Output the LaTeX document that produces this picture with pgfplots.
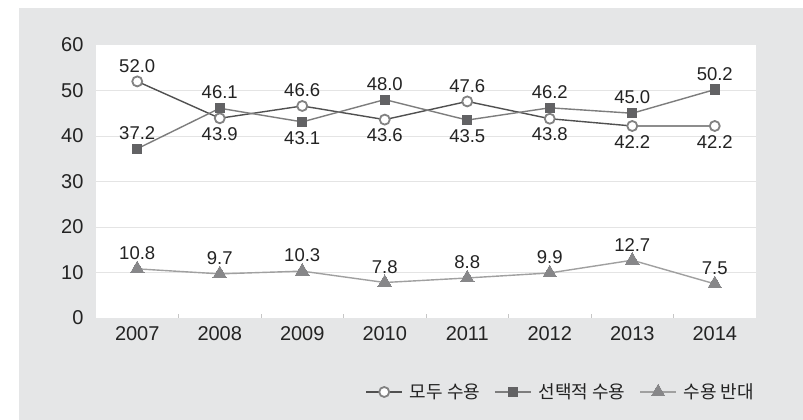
\documentclass[border=0pt]{standalone}
\usepackage{fontspec}
\setmainfont{Liberation Sans}
\newfontfamily\kr{Noto Sans CJK KR}
\usepackage{pgfplots}
\pgfplotsset{compat=1.18}
\definecolor{bggrey}{RGB}{229,230,231}
\definecolor{gridgrey}{RGB}{228,228,228}
\definecolor{txt}{RGB}{35,35,35}
\definecolor{allline}{RGB}{80,80,80}
\definecolor{allmark}{RGB}{130,130,130}
\definecolor{selline}{RGB}{125,125,125}
\definecolor{selmark}{RGB}{98,98,100}
\definecolor{oppline}{RGB}{160,160,160}
\definecolor{oppmark}{RGB}{135,135,137}

\pgfplotstableread{
year all sel opp
2007 52.0 37.2 10.8
2008 43.9 46.1 9.7
2009 46.6 43.1 10.3
2010 43.6 48.0 7.8
2011 47.6 43.5 8.8
2012 43.8 46.2 9.9
2013 42.2 45.0 12.7
2014 42.2 50.2 7.5
}\survey

\tikzset{vlab/.style={font=\fontsize{18.5}{20}\selectfont, text=txt, inner sep=0pt}}
\newcommand{\labA}[2]{\node[vlab, anchor=south, yshift=9pt] at (axis cs:#1,#2) {#2};}
\newcommand{\labB}[2]{\node[vlab, anchor=north, yshift=-9pt] at (axis cs:#1,#2) {#2};}

\begin{document}
\begin{tikzpicture}[x=1pt,y=1pt]
\fill[white] (0,0) rectangle (803,420);
\fill[bggrey] (19,0) rectangle (803,412);
\begin{axis}[
    at={(96pt,102pt)}, anchor=south west,
    scale only axis, width=660pt, height=273pt,
    xmin=2006.5, xmax=2014.5, ymin=0, ymax=60,
    axis background/.style={fill=white},
    axis line style={draw=none},
    xtick={2007,2008,2009,2010,2011,2012,2013,2014},
    ytick={0,10,20,30,40,50,60},
    major tick length=0pt,
    xtick pos=bottom, ytick pos=left,
    extra x ticks={2007.5,2008.5,2009.5,2010.5,2011.5,2012.5,2013.5},
    extra x tick labels={},
    extra x tick style={major tick length=4pt, tick align=inside, tick style={draw=gridgrey!70!gray, line width=0.8pt}},
    /pgf/number format/assume math mode=true,
    /pgf/number format/1000 sep={},
    ticklabel style={font=\fontsize{20}{22}\selectfont, text=txt},
    xticklabel style={yshift=-5pt},
    yticklabel style={xshift=-9pt},
    clip=false,
    legend columns=3,
    legend style={at={(1.005,-0.271)}, anchor=east, draw=none, fill=none,
      font=\kr\fontsize{18}{20}\selectfont, text=txt,
      /tikz/every odd column/.append style={column sep=5pt},
      /tikz/every even column/.append style={column sep=12pt}},
    legend image code/.code={\draw[mark repeat=2,mark phase=2] plot coordinates {(0pt,0pt)(18pt,0pt)(36pt,0pt)};},
  ]
  \pgfplotsinvokeforeach{10,20,30,40,50}{
    \draw[gridgrey, line width=1pt] (axis cs:2006.5,#1) -- (axis cs:2014.5,#1);
  }
  \addplot[allline, line width=1.4pt, mark=*, mark size=5pt,
    mark options={fill=white, draw=allmark, line width=1.8pt}] table[x=year, y=all] {\survey};
  \addlegendentry{모두 수용}
  \addplot[selline, line width=1.4pt, mark=square*, mark size=4.6pt,
    mark options={fill=selmark, draw=selmark, line width=0pt}] table[x=year, y=sel] {\survey};
  \addlegendentry{선택적 수용}
  \addplot[oppline, line width=1.4pt, mark=triangle*, mark size=7.8pt,
    mark options={fill=oppmark, draw=oppmark, line width=0pt}] table[x=year, y=opp] {\survey};
  \addlegendentry{수용 반대}
  % labels
  \labA{2007}{52.0}
  \labB{2008}{43.9}
  \labA{2009}{46.6}
  \labB{2010}{43.6}
  \labA{2011}{47.6}
  \labB{2012}{43.8}
  \labB{2013}{42.2}
  \labB{2014}{42.2}
  \labA{2007}{37.2}
  \labA{2008}{46.1}
  \labB{2009}{43.1}
  \labA{2010}{48.0}
  \labB{2011}{43.5}
  \labA{2012}{46.2}
  \labA{2013}{45.0}
  \labA{2014}{50.2}
  \labA{2007}{10.8}
  \labA{2008}{9.7}
  \labA{2009}{10.3}
  \labA{2010}{7.8}
  \labA{2011}{8.8}
  \labA{2012}{9.9}
  \labA{2013}{12.7}
  \labA{2014}{7.5}
\end{axis}
\end{tikzpicture}
\end{document}
